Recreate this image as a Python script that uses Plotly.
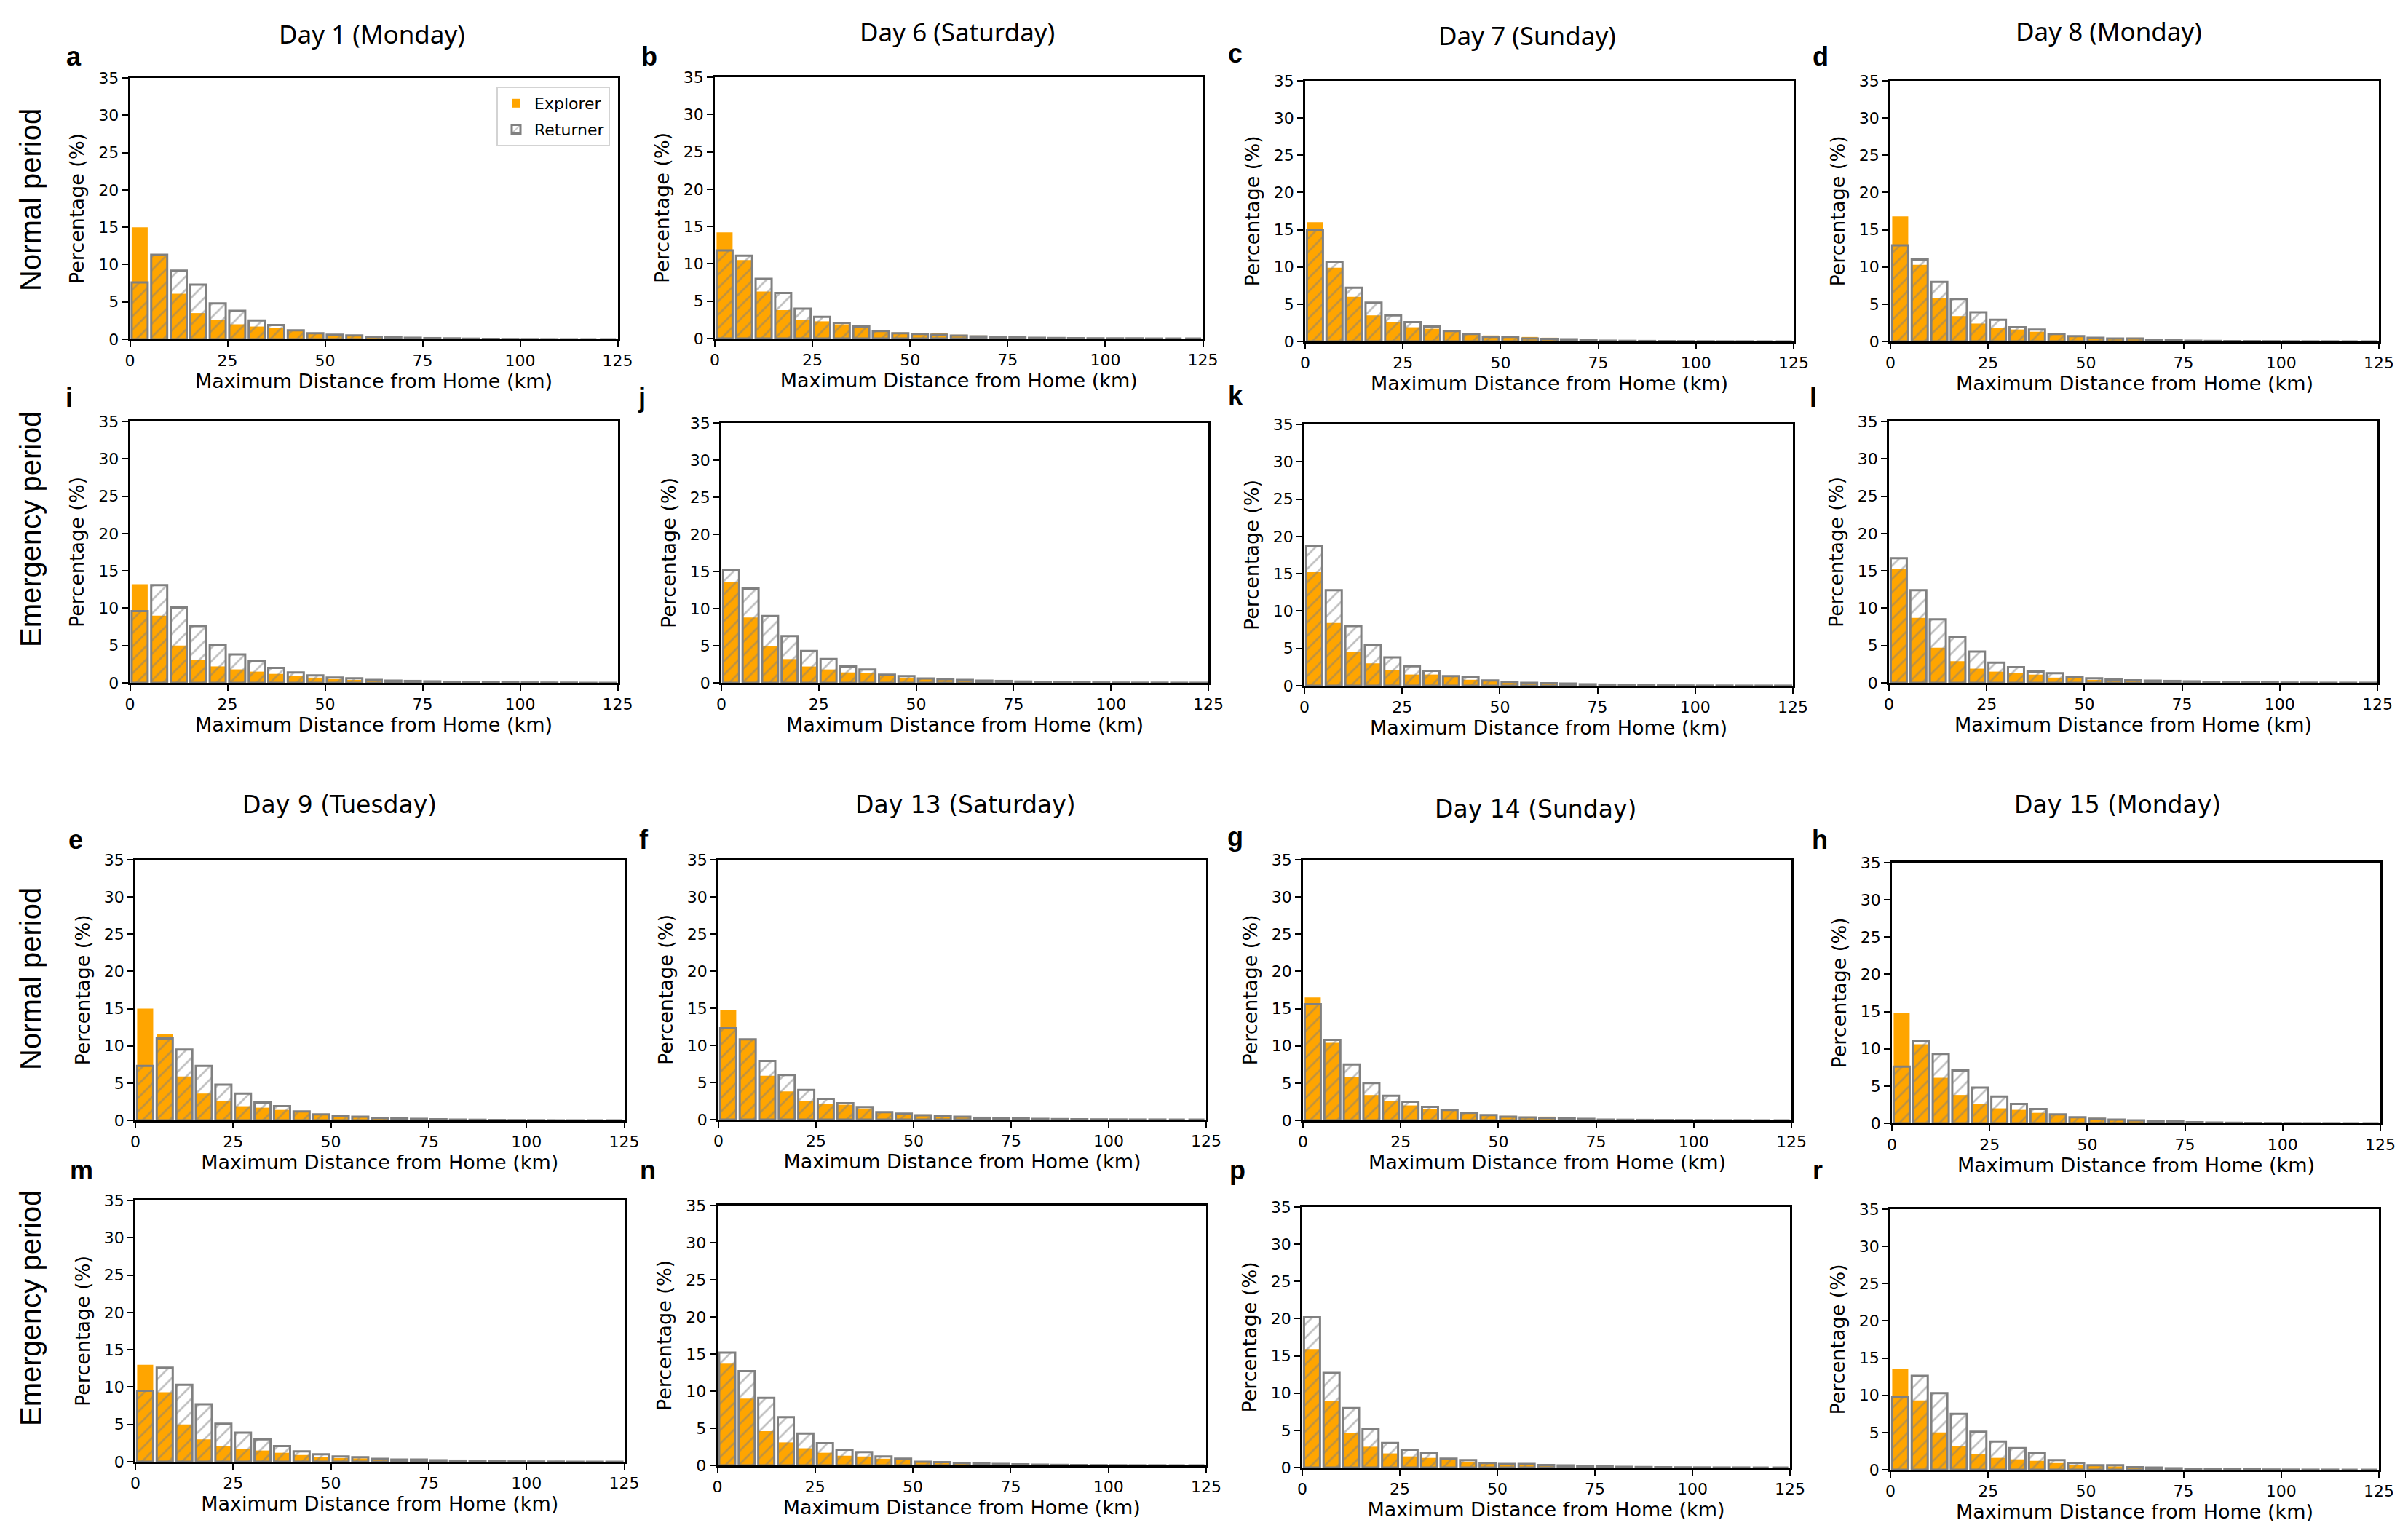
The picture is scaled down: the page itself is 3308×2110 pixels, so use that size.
import plotly.graph_objects as go

# The page body adds an 8 px margin; shift all pixel positions by it.
OFF = 8
W, H = 3308 - 2 * OFF, 2110 - 2 * OFF

# ---------------- data ----------------
distance_km = [2.5, 7.5, 12.5, 17.5, 22.5, 27.5, 32.5, 37.5, 42.5, 47.5,
               52.5, 57.5, 62.5, 67.5, 72.5, 77.5, 82.5, 87.5, 92.5, 97.5,
               102.5, 107.5, 112.5, 117.5, 122.5]
x_tick_vals = [0, 25, 50, 75, 100, 125]
y_tick_vals = [0, 5, 10, 15, 20, 25, 30, 35]

day_titles = ["Day 1 (Monday)", "Day 6 (Saturday)", "Day 7 (Sunday)", "Day 8 (Monday)",
              "Day 9 (Tuesday)", "Day 13 (Saturday)", "Day 14 (Sunday)", "Day 15 (Monday)"]
period_labels = ["Normal period", "Emergency period"]

# Normal period, week 1
explorer_a = [15.0, 11.2, 6.1, 3.5, 2.6, 2.0, 1.7, 1.5, 1.1, 0.8, 0.5, 0.4, 0.3, 0.2, 0.15, 0.1, 0.08, 0.05, 0.03, 0.02, 0.01, 0.01, 0.0, 0.0, 0.0]
returner_a = [7.6, 11.3, 9.2, 7.3, 4.8, 3.8, 2.5, 1.9, 1.2, 0.8, 0.6, 0.5, 0.35, 0.25, 0.2, 0.15, 0.12, 0.08, 0.05, 0.03, 0.02, 0.01, 0.01, 0.0, 0.0]
explorer_b = [14.2, 10.5, 6.3, 3.8, 2.5, 2.3, 1.9, 1.5, 1.0, 0.8, 0.7, 0.7, 0.5, 0.4, 0.25, 0.15, 0.1, 0.06, 0.04, 0.03, 0.02, 0.01, 0.01, 0.0, 0.0]
returner_b = [11.8, 11.1, 8.0, 6.1, 4.0, 2.9, 2.1, 1.6, 1.0, 0.7, 0.6, 0.5, 0.4, 0.3, 0.2, 0.15, 0.1, 0.07, 0.05, 0.03, 0.02, 0.02, 0.01, 0.0, 0.0]
explorer_c = [16.0, 9.9, 6.0, 3.5, 2.6, 1.9, 1.7, 1.3, 1.0, 0.8, 0.6, 0.6, 0.5, 0.3, 0.15, 0.1, 0.06, 0.04, 0.03, 0.02, 0.01, 0.01, 0.0, 0.0, 0.0]
returner_c = [14.9, 10.7, 7.2, 5.2, 3.5, 2.6, 2.0, 1.4, 1.0, 0.6, 0.6, 0.4, 0.35, 0.3, 0.15, 0.1, 0.08, 0.06, 0.04, 0.03, 0.02, 0.01, 0.01, 0.0, 0.0]
explorer_d = [16.8, 10.3, 5.8, 3.4, 2.4, 1.8, 1.6, 1.3, 1.0, 0.7, 0.5, 0.45, 0.5, 0.3, 0.15, 0.1, 0.06, 0.04, 0.03, 0.02, 0.01, 0.01, 0.0, 0.0, 0.0]
returner_d = [12.9, 11.0, 8.0, 5.7, 3.9, 2.9, 1.9, 1.6, 1.0, 0.7, 0.5, 0.4, 0.4, 0.2, 0.15, 0.1, 0.07, 0.05, 0.04, 0.03, 0.02, 0.01, 0.01, 0.0, 0.0]
# Emergency period, week 1
explorer_i = [13.2, 9.0, 5.0, 3.1, 2.2, 1.8, 1.5, 1.2, 0.9, 0.7, 0.5, 0.4, 0.3, 0.2, 0.15, 0.1, 0.08, 0.05, 0.03, 0.02, 0.02, 0.01, 0.01, 0.0, 0.0]
returner_i = [9.6, 13.1, 10.1, 7.6, 5.1, 3.8, 2.9, 2.0, 1.4, 1.0, 0.7, 0.6, 0.4, 0.3, 0.25, 0.2, 0.15, 0.1, 0.08, 0.05, 0.04, 0.03, 0.02, 0.01, 0.01]
explorer_j = [13.6, 8.8, 4.9, 3.2, 2.2, 1.8, 1.4, 1.3, 0.9, 0.7, 0.5, 0.4, 0.3, 0.2, 0.15, 0.1, 0.05, 0.04, 0.03, 0.02, 0.01, 0.01, 0.01, 0.0, 0.0]
returner_j = [15.2, 12.7, 9.0, 6.3, 4.3, 3.2, 2.2, 1.8, 1.1, 0.9, 0.6, 0.5, 0.4, 0.3, 0.25, 0.18, 0.12, 0.1, 0.06, 0.04, 0.03, 0.02, 0.02, 0.01, 0.01]
explorer_k = [15.2, 8.4, 4.5, 3.0, 2.1, 1.5, 1.5, 1.2, 0.8, 0.7, 0.5, 0.4, 0.3, 0.2, 0.1, 0.1, 0.05, 0.03, 0.02, 0.01, 0.01, 0.0, 0.0, 0.0, 0.0]
returner_k = [18.7, 12.8, 8.0, 5.4, 3.8, 2.6, 2.0, 1.3, 1.2, 0.7, 0.5, 0.4, 0.35, 0.3, 0.2, 0.15, 0.1, 0.06, 0.04, 0.03, 0.02, 0.02, 0.01, 0.01, 0.01]
explorer_l = [15.2, 8.7, 4.7, 2.9, 1.9, 1.5, 1.3, 1.1, 0.7, 0.6, 0.4, 0.35, 0.25, 0.2, 0.12, 0.08, 0.05, 0.04, 0.03, 0.02, 0.01, 0.01, 0.0, 0.0, 0.0]
returner_l = [16.7, 12.4, 8.5, 6.2, 4.2, 2.7, 2.1, 1.5, 1.3, 0.8, 0.6, 0.45, 0.35, 0.3, 0.25, 0.2, 0.12, 0.1, 0.06, 0.05, 0.03, 0.02, 0.01, 0.01, 0.01]
# Normal period, week 2
explorer_e = [15.0, 11.6, 5.9, 3.6, 2.6, 1.9, 1.7, 1.4, 1.1, 0.8, 0.6, 0.5, 0.4, 0.2, 0.12, 0.08, 0.05, 0.03, 0.02, 0.01, 0.01, 0.0, 0.0, 0.0, 0.0]
returner_e = [7.3, 11.0, 9.5, 7.3, 4.8, 3.6, 2.4, 1.9, 1.2, 0.8, 0.6, 0.5, 0.35, 0.25, 0.2, 0.15, 0.1, 0.08, 0.05, 0.03, 0.02, 0.01, 0.01, 0.0, 0.0]
explorer_f = [14.7, 10.8, 5.9, 3.8, 2.5, 2.1, 2.0, 1.5, 1.0, 0.8, 0.7, 0.5, 0.4, 0.3, 0.2, 0.1, 0.06, 0.04, 0.03, 0.02, 0.01, 0.01, 0.0, 0.0, 0.0]
returner_f = [12.3, 10.8, 7.9, 6.0, 4.0, 2.8, 2.2, 1.7, 1.0, 0.8, 0.6, 0.5, 0.4, 0.25, 0.2, 0.15, 0.1, 0.07, 0.05, 0.03, 0.02, 0.01, 0.01, 0.0, 0.0]
explorer_g = [16.5, 10.4, 5.8, 3.4, 2.6, 2.0, 1.5, 1.3, 1.0, 0.7, 0.6, 0.5, 0.5, 0.3, 0.15, 0.1, 0.06, 0.04, 0.03, 0.02, 0.01, 0.01, 0.0, 0.0, 0.0]
returner_g = [15.6, 10.8, 7.5, 5.0, 3.3, 2.5, 1.8, 1.4, 1.0, 0.7, 0.5, 0.4, 0.35, 0.25, 0.2, 0.1, 0.08, 0.06, 0.04, 0.03, 0.02, 0.01, 0.01, 0.0, 0.0]
explorer_h = [14.8, 10.6, 6.1, 3.8, 2.6, 2.0, 1.8, 1.4, 1.2, 0.8, 0.7, 0.5, 0.4, 0.35, 0.2, 0.1, 0.06, 0.04, 0.03, 0.02, 0.01, 0.01, 0.0, 0.0, 0.0]
returner_h = [7.6, 11.1, 9.3, 7.1, 4.8, 3.6, 2.6, 1.9, 1.2, 0.8, 0.6, 0.5, 0.4, 0.3, 0.25, 0.15, 0.1, 0.07, 0.05, 0.03, 0.02, 0.01, 0.01, 0.0, 0.0]
# Emergency period, week 2
explorer_m = [13.0, 9.3, 5.0, 3.0, 2.1, 1.7, 1.5, 1.2, 0.9, 0.6, 0.5, 0.45, 0.3, 0.2, 0.15, 0.1, 0.05, 0.04, 0.03, 0.02, 0.01, 0.01, 0.0, 0.0, 0.0]
returner_m = [9.5, 12.6, 10.3, 7.7, 5.1, 3.9, 3.0, 2.1, 1.4, 1.0, 0.7, 0.6, 0.4, 0.3, 0.3, 0.2, 0.15, 0.1, 0.06, 0.04, 0.03, 0.02, 0.01, 0.01, 0.01]
explorer_n = [13.7, 9.0, 4.6, 3.1, 2.3, 1.7, 1.3, 1.2, 0.9, 0.7, 0.45, 0.4, 0.3, 0.2, 0.1, 0.1, 0.05, 0.03, 0.02, 0.01, 0.01, 0.0, 0.0, 0.0, 0.0]
returner_n = [15.2, 12.7, 9.1, 6.5, 4.3, 3.0, 2.1, 1.8, 1.2, 0.9, 0.5, 0.45, 0.35, 0.3, 0.2, 0.15, 0.1, 0.07, 0.05, 0.03, 0.02, 0.01, 0.01, 0.0, 0.0]
explorer_p = [15.9, 8.9, 4.6, 2.8, 1.9, 1.5, 1.3, 1.1, 0.8, 0.6, 0.5, 0.4, 0.3, 0.2, 0.1, 0.08, 0.05, 0.03, 0.02, 0.01, 0.01, 0.0, 0.0, 0.0, 0.0]
returner_p = [20.2, 12.7, 8.0, 5.2, 3.3, 2.4, 1.9, 1.2, 1.0, 0.6, 0.5, 0.5, 0.35, 0.3, 0.2, 0.15, 0.1, 0.07, 0.05, 0.03, 0.02, 0.01, 0.01, 0.0, 0.0]
explorer_r = [13.6, 9.3, 5.0, 3.2, 2.1, 1.6, 1.4, 1.2, 0.9, 0.6, 0.5, 0.45, 0.3, 0.2, 0.12, 0.08, 0.05, 0.03, 0.02, 0.01, 0.01, 0.0, 0.0, 0.0, 0.0]
returner_r = [9.8, 12.6, 10.3, 7.5, 5.1, 3.8, 2.9, 2.2, 1.3, 0.9, 0.6, 0.6, 0.35, 0.3, 0.2, 0.15, 0.1, 0.07, 0.05, 0.03, 0.02, 0.01, 0.01, 0.0, 0.0]

# ---------------- layout geometry (pixels in the 3308x2110 picture) ----------------
panels = [
    ("a", explorer_a, returner_a, (178.5, 848.5, 107, 466), (101, 96)),
    ("b", explorer_b, returner_b, (982, 1652.5, 106, 465), (892, 96)),
    ("c", explorer_c, returner_c, (1793, 2464, 111, 469), (1697, 92)),
    ("d", explorer_d, returner_d, (2597, 3268, 111, 469), (2501, 96)),
    ("i", explorer_i, returner_i, (178.5, 848.5, 579, 938), (95, 565)),
    ("j", explorer_j, returner_j, (991, 1660, 581, 938), (881, 565)),
    ("k", explorer_k, returner_k, (1792, 2463, 583, 942), (1697, 562)),
    ("l", explorer_l, returner_l, (2595, 3266, 579, 938), (2491, 565)),
    ("e", explorer_e, returner_e, (186, 857.5, 1181, 1539), (104, 1172)),
    ("f", explorer_f, returner_f, (987, 1657, 1181, 1538), (884, 1172)),
    ("g", explorer_g, returner_g, (1790, 2461, 1181, 1539), (1697, 1168)),
    ("h", explorer_h, returner_h, (2599, 3270, 1185, 1543), (2500, 1172)),
    ("m", explorer_m, returner_m, (186, 857.5, 1649, 2008), (112, 1626)),
    ("n", explorer_n, returner_n, (985.5, 1657, 1656, 2013), (890, 1626)),
    ("p", explorer_p, returner_p, (1789, 2459, 1658, 2016), (1700, 1626)),
    ("r", explorer_r, returner_r, (2597, 3268, 1661, 2019), (2497, 1626)),
]

title_pos = [(511, 46), (1315, 43), (2098, 48), (2897, 42),
             (466, 1105), (1326, 1105), (2109, 1112), (2909, 1105)]
period_pos = [(42, 275), (42, 727), (42, 1345), (42, 1797)]


def px(x):
    return (x - OFF) / W


def py(y):
    return 1 - (y - OFF) / H


ORANGE = "#FFA500"
GRAY = "#808080"
AX_FONT = "DejaVu Sans"

fig = go.Figure()
layout = dict(
    width=W, height=H,
    margin=dict(l=0, r=0, t=0, b=0),
    paper_bgcolor="white", plot_bgcolor="white",
    barmode="overlay",
    showlegend=True,
    legend=dict(x=px(838), xanchor="right", y=py(119), yanchor="top",
                bgcolor="white", bordercolor="#d3d3d3", borderwidth=2,
                font=dict(family=AX_FONT, size=22, color="black"),
                tracegroupgap=4, itemwidth=40),
)

annotations = []
for idx, (letter, exp, ret, (x0, x1, yt, yb), (lx, lb)) in enumerate(panels):
    n = idx + 1
    xa = "x" if n == 1 else f"x{n}"
    ya = "y" if n == 1 else f"y{n}"
    first = (n == 1)
    fig.add_trace(go.Bar(
        x=distance_km, y=exp, width=4.1, name="Explorer",
        marker=dict(color=ORANGE, line=dict(width=0)),
        xaxis=xa, yaxis=ya, showlegend=first, legendgroup="exp"))
    fig.add_trace(go.Bar(
        x=distance_km, y=ret, width=4.1, name="Returner",
        marker=dict(color="rgba(0,0,0,0)", line=dict(color=GRAY, width=3),
                    pattern=dict(shape="/", fgcolor=GRAY, bgcolor="rgba(0,0,0,0)",
                                 size=13, solidity=0.2, fillmode="overlay")),
        xaxis=xa, yaxis=ya, showlegend=first, legendgroup="ret"))

    xkey = "xaxis" if n == 1 else f"xaxis{n}"
    ykey = "yaxis" if n == 1 else f"yaxis{n}"
    layout[xkey] = dict(
        domain=[px(x0), px(x1)], anchor=ya, range=[0, 125],
        tickmode="array", tickvals=x_tick_vals,
        ticks="outside", ticklen=8, tickwidth=2, tickcolor="black",
        showline=True, linecolor="black", linewidth=2.5, mirror=True,
        showgrid=False, zeroline=False,
        tickfont=dict(family=AX_FONT, size=22, color="black"),
        title=dict(text="Maximum Distance from Home (km)", standoff=5,
                   font=dict(family=AX_FONT, size=27, color="black")),
        automargin=False, fixedrange=True)
    layout[ykey] = dict(
        domain=[py(yb), py(yt)], anchor=xa, range=[0, 35],
        tickmode="array", tickvals=y_tick_vals,
        ticks="outside", ticklen=8, tickwidth=2, tickcolor="black",
        showline=True, linecolor="black", linewidth=2.5, mirror=True,
        showgrid=False, zeroline=False,
        tickfont=dict(family=AX_FONT, size=22, color="black"),
        title=dict(text="Percentage (%)", standoff=12,
                   font=dict(family=AX_FONT, size=27, color="black")),
        automargin=False, fixedrange=True)

    annotations.append(dict(
        text=f"<b>{letter}</b>", x=px(lx), y=py(lb + 4),
        xref="paper", yref="paper", xanchor="center", yanchor="bottom",
        showarrow=False, font=dict(family="Liberation Sans", size=36, color="black")))

for t, (tx, ty) in zip(day_titles, title_pos):
    top = ty < 500
    annotations.append(dict(
        text=t, x=px(tx), y=py(ty), xref="paper", yref="paper",
        xanchor="center", yanchor="middle", showarrow=False,
        font=dict(family="Noto Sans" if top else "DejaVu Sans",
                  size=35 if top else 33, color="black")))

for k, (ppx, ppy) in enumerate(period_pos):
    annotations.append(dict(
        text=period_labels[k % 2], x=px(ppx), y=py(ppy), xref="paper", yref="paper",
        xanchor="center", yanchor="middle", textangle=-90, showarrow=False,
        font=dict(family="Liberation Sans", size=40, color="black")))

layout["annotations"] = annotations
fig.update_layout(**layout)
fig.write_html("out.html")
